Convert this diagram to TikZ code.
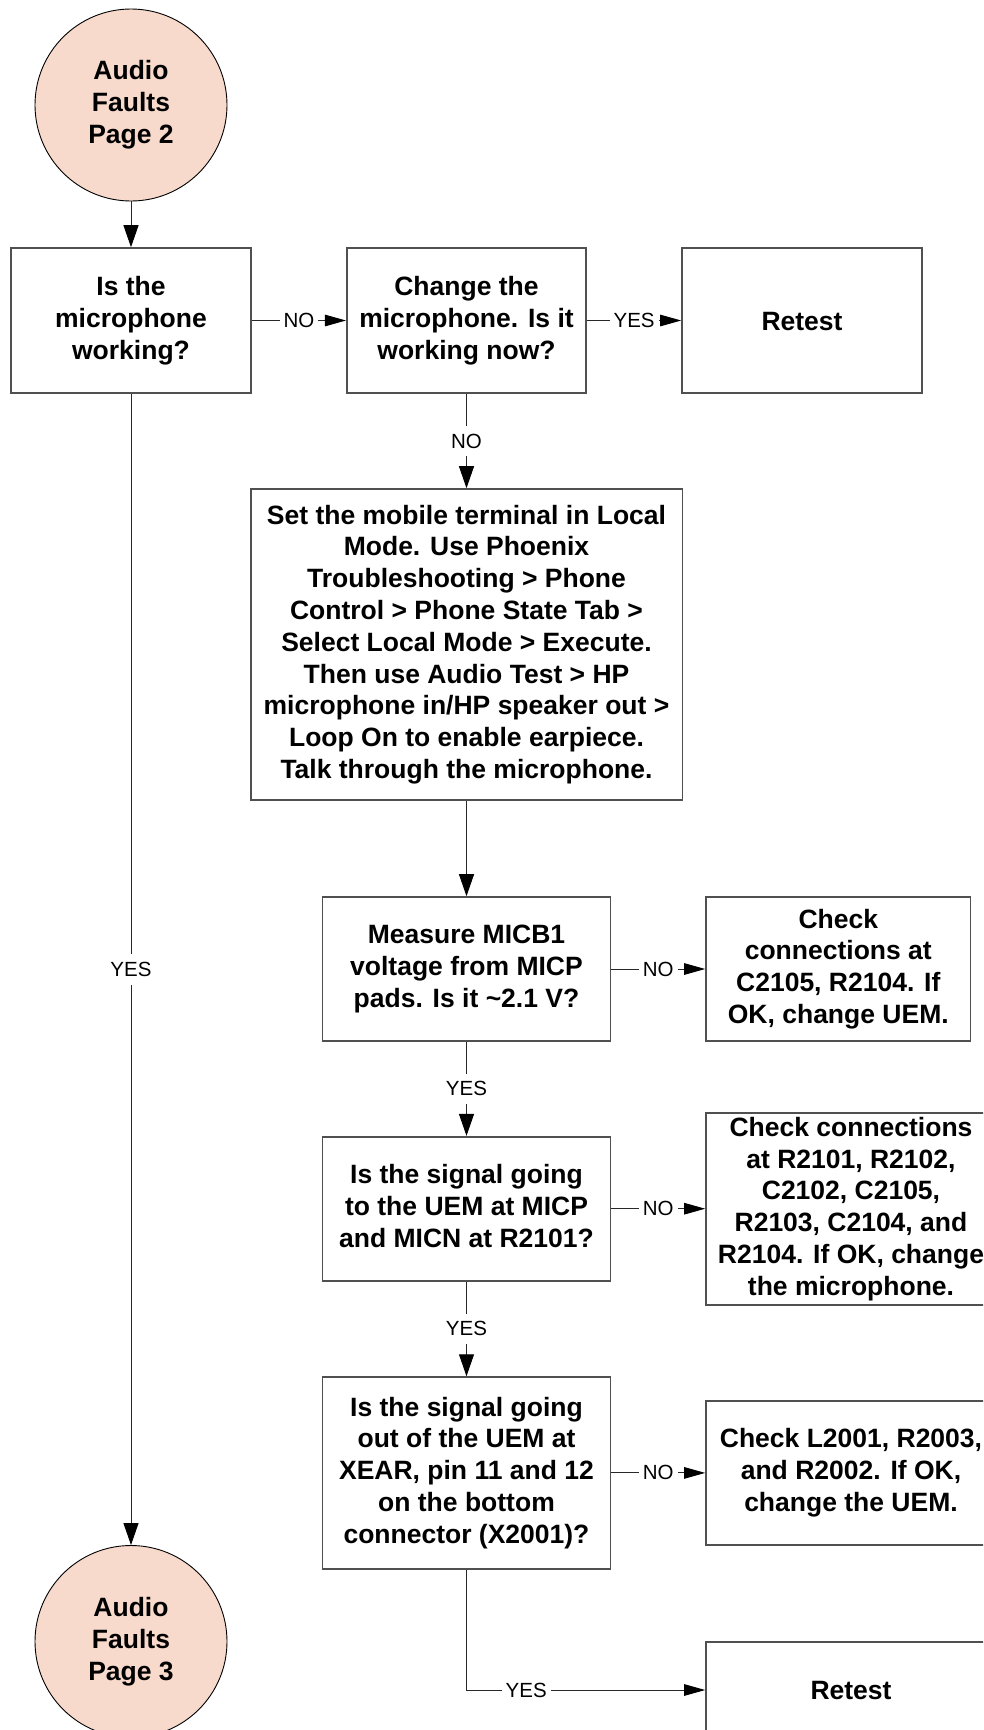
\documentclass[tikz,border=0pt]{standalone}
\usepackage{fontspec}
\setmainfont{Liberation Sans}
\usetikzlibrary{arrows.meta}
\definecolor{pagefill}{RGB}{248,218,204}
\definecolor{boxline}{RGB}{80,80,80}
\definecolor{lineclr}{RGB}{40,40,40}
\begin{document}
\begin{tikzpicture}[x=1pt,y=-1pt,
  txtfont/.style={font=\fontsize{26.5}{31.8}\selectfont\bfseries,
    execute at begin node={\rule{0pt}{25pt}},
    execute at end node={\rule[-5.6pt]{0pt}{5.6pt}}},
  box/.style={draw=boxline, line width=1.6pt, rectangle, inner sep=0pt, align=center, txtfont},
  term/.style={circle, draw=black, line width=0.9pt, fill=pagefill, minimum size=192pt,
    inner sep=0pt, align=center, txtfont},
  varr/.style={draw=lineclr, line width=1pt, -{Triangle[length=22pt,width=15pt,color=black]}},
  harr/.style={draw=lineclr, line width=1pt, -{Triangle[length=21pt,width=11.5pt,color=black]}},
  lbl/.style={fill=white, inner xsep=4pt, inner ysep=8pt, font=\fontsize{20.5}{24}\selectfont}]
\useasboundingbox (0,0) rectangle (983,1730);
\fill[white] (0,0) rectangle (983,1730);
\clip (0,0) rectangle (983,1730);

\node[term] (c1) at (131,105) {Audio\\Faults\\Page 2};
\node[term] (c2) at (131,1641.5) {Audio\\Faults\\Page 3};

\node[box, minimum width=240pt, minimum height=145pt] (b1) at (131,320.5) {Is the\\microphone\\working?};
\node[box, minimum width=239.5pt, minimum height=145pt] (b2) at (466.5,320.5) {Change the\\microphone. Is it\\working now?};
\node[box, minimum width=240pt, minimum height=145pt] (b3) at (802,320.5) {Retest};
\node[box, minimum width=431.6pt, minimum height=311pt] (b4) at (466.5,644.5) {Set the mobile terminal in Local\\Mode. Use Phoenix\\Troubleshooting > Phone\\Control > Phone State Tab >\\Select Local Mode > Execute.\\Then use Audio Test > HP\\microphone in/HP speaker out >\\Loop On to enable earpiece.\\Talk through the microphone.};
\node[box, minimum width=288pt, minimum height=144pt] (b5) at (466.5,969) {Measure MICB1\\voltage from MICP\\pads. Is it \textasciitilde2.1 V?};
\node[box, minimum width=264.6pt, minimum height=144pt] (b6) at (838.3,969) {Check\\connections at\\C2105, R2104. If\\OK, change UEM.};
\node[box, minimum width=288pt, minimum height=144pt] (b7) at (466.5,1208.7) {Is the signal going\\to the UEM at MICP\\and MICN at R2101?};
\node[box, minimum width=290pt, minimum height=192.3pt] (b8) at (851,1208.9) {Check connections\\at R2101, R2102,\\C2102, C2105,\\R2103, C2104, and\\R2104. If OK, change\\the microphone.};
\node[box, minimum width=288pt, minimum height=191.7pt] (b9) at (466.5,1472.9) {Is the signal going\\out of the UEM at\\XEAR, pin 11 and 12\\on the bottom\\connector (X2001)?};
\node[box, minimum width=290pt, minimum height=143.6pt] (b10) at (851,1472.9) {Check L2001, R2003,\\and R2002. If OK,\\change the UEM.};
\node[box, minimum width=290pt, minimum height=96.6pt] (b11) at (851,1690) {Retest};

\draw[varr] (c1.south) -- (b1.north);
\draw[harr] (b1.east) -- node[lbl]{NO} (b2.west);
\draw[harr] (b2.east) -- node[lbl]{YES} (b3.west);
\draw[varr] (b2.south) -- node[lbl]{NO} (b4.north);
\draw[varr] (b4.south) -- (b5.north);
\draw[harr] (b5.east) -- node[lbl]{NO} (b6.west);
\draw[varr] (b5.south) -- node[lbl]{YES} (b7.north);
\draw[harr] (b7.east) -- node[lbl]{NO} (b7.east -| b8.west);
\draw[varr] (b7.south) -- node[lbl]{YES} (b9.north);
\draw[harr] (b9.east) -- node[lbl]{NO} (b10.west);
\draw[harr] (b9.south) |- node[lbl,pos=0.625]{YES} (b11.west);
\draw[varr] (b1.south) -- node[lbl]{YES} (c2.north);
\end{tikzpicture}
\end{document}
